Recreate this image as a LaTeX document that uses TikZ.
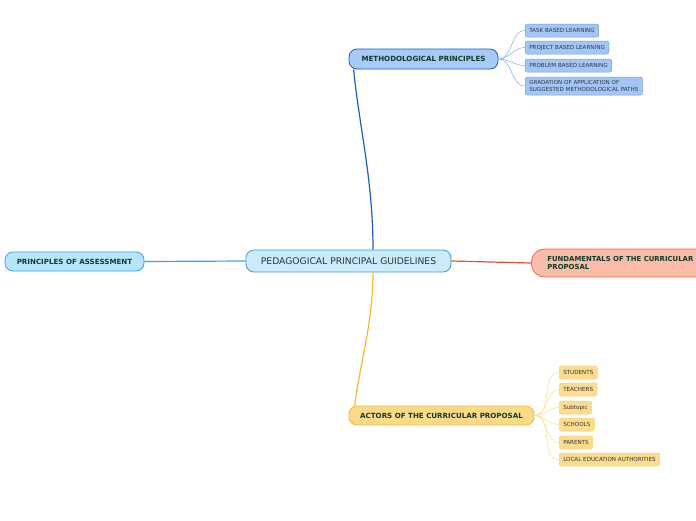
\documentclass[tikz,border=0pt]{standalone}
\usepackage{fontspec}
\setmainfont{DejaVu Sans}
\usetikzlibrary{positioning, calc}

\definecolor{textgreen}{HTML}{0E3B2A}
\definecolor{textgrey}{HTML}{2E3440}
\definecolor{centralfill}{HTML}{CBEBFB}
\definecolor{centralline}{HTML}{3C9BDA}
\definecolor{methfill}{HTML}{A6CBF7}
\definecolor{methline}{HTML}{1A5FCF}
\definecolor{methsubfill}{HTML}{A4C6F6}
\definecolor{methsubline}{HTML}{6AA1EC}
\definecolor{methtwig}{HTML}{8DB6F0}
\definecolor{assessfill}{HTML}{B6E6FB}
\definecolor{assessline}{HTML}{2FA8E6}
\definecolor{fundfill}{HTML}{F8BCA8}
\definecolor{fundline}{HTML}{EF6A45}
\definecolor{fundedge}{HTML}{E5512A}
\definecolor{actfill}{HTML}{FDDA8A}
\definecolor{actline}{HTML}{F5B92A}
\definecolor{actsubfill}{HTML}{FDDC8E}
\definecolor{actsubline}{HTML}{FBD27A}
\definecolor{acttwig}{HTML}{FDE0A0}

\begin{document}
\begin{tikzpicture}[
    x=1pt, y=1pt,
    central/.style={draw=centralline, fill=centralfill, rounded corners=8pt, line width=0.8pt, minimum width=205pt, minimum height=22pt, inner sep=2pt, font=\fontsize{9.2}{11}\selectfont, text=textgrey},
    topic/.style={draw, rounded corners=8pt, line width=0.8pt, minimum height=20pt, inner xsep=10pt, inner ysep=2pt, font=\fontsize{7.1}{8.4}\selectfont\bfseries, text=textgreen},
    subtopic/.style={draw, rounded corners=2pt, line width=0.5pt, minimum height=13pt, inner xsep=4pt, inner ysep=1.5pt, font=\fontsize{5.6}{7}\selectfont, text=textgrey, anchor=west, align=left},
    branch/.style={line width=1.2pt},
    twig/.style={line width=0.6pt}
]
    \path[use as bounding box, fill=white] (0,0) rectangle (696,-520);

    % ================= CENTRAL TOPIC =================
    \node[central] (PG) at (348.5,-261) {PEDAGOGICAL PRINCIPAL GUIDELINES};

    % ================= MAIN TOPICS =================
    \node[topic, fill=methfill, draw=methline, minimum width=149pt] (MP) at (423.5,-59) {METHODOLOGICAL PRINCIPLES};
    \node[topic, fill=assessfill, draw=assessline, minimum width=139pt, minimum height=19pt] (PA) at (74.5,-261.5) {PRINCIPLES OF ASSESSMENT};
    \node[topic, fill=fundfill, draw=fundline, anchor=west, rounded corners=13pt, minimum height=28pt, inner xsep=16pt, align=left, font=\fontsize{6.9}{8.4}\selectfont\bfseries] (FP) at (531,-263) {FUNDAMENTALS OF THE CURRICULAR\\PROPOSAL};
    \node[topic, fill=actfill, draw=actline, minimum width=185pt, minimum height=19pt] (AP) at (441.5,-415.5) {ACTORS OF THE CURRICULAR PROPOSAL};

    \draw[branch, draw=methline] ([xshift=24.5pt]PG.north) .. controls +(0,70) and +(6,-60) .. ([xshift=5pt]MP.south west);
    \draw[branch, draw=assessline] (PG.west) -- (PA.east);
    \draw[branch, draw=fundedge] (PG.east) -- (FP.west);
    \draw[branch, draw=actline] ([xshift=24.5pt]PG.south) .. controls +(0,-50) and +(6,45) .. ([xshift=6pt]AP.north west);

    % ================= METHODOLOGICAL SUBTOPICS =================
    \begin{scope}[every node/.style={subtopic, fill=methsubfill, draw=methsubline}]
        \node (TB) at (525,-30.5) {TASK BASED LEARNING};
        \node (PJ) at (525,-47.5) {PROJECT BASED LEARNING};
        \node (PB) at (525,-65.5) {PROBLEM BASED LEARNING};
        \node[minimum height=18pt, inner ysep=1pt, font=\fontsize{5.6}{7.2}\selectfont] (GR) at (525,-86) {GRADATION OF APPLICATION OF\\SUGGESTED METHODOLOGICAL PATHS};
    \end{scope}

    \foreach \s in {TB,PJ,PB,GR}
        \draw[twig, draw=methtwig] (MP.east) to[out=0, in=180] (\s.west);

    % ================= ACTORS SUBTOPICS =================
    \begin{scope}[every node/.style={subtopic, fill=actsubfill, draw=actsubline}]
        \node (ST) at (559,-372.5) {STUDENTS};
        \node (TE) at (559,-389.5) {TEACHERS};
        \node (SU) at (559,-407.5) {Subtopic};
        \node (SC) at (559,-424.5) {SCHOOLS};
        \node (PR) at (559,-442.5) {PARENTS};
        \node (LE) at (559,-459.5) {LOCAL EDUCATION AUTHORITIES};
    \end{scope}

    \foreach \s in {ST,TE,SU,SC,PR,LE}
        \draw[twig, draw=acttwig] (AP.east) to[out=0, in=180] (\s.west);

\end{tikzpicture}
\end{document}
